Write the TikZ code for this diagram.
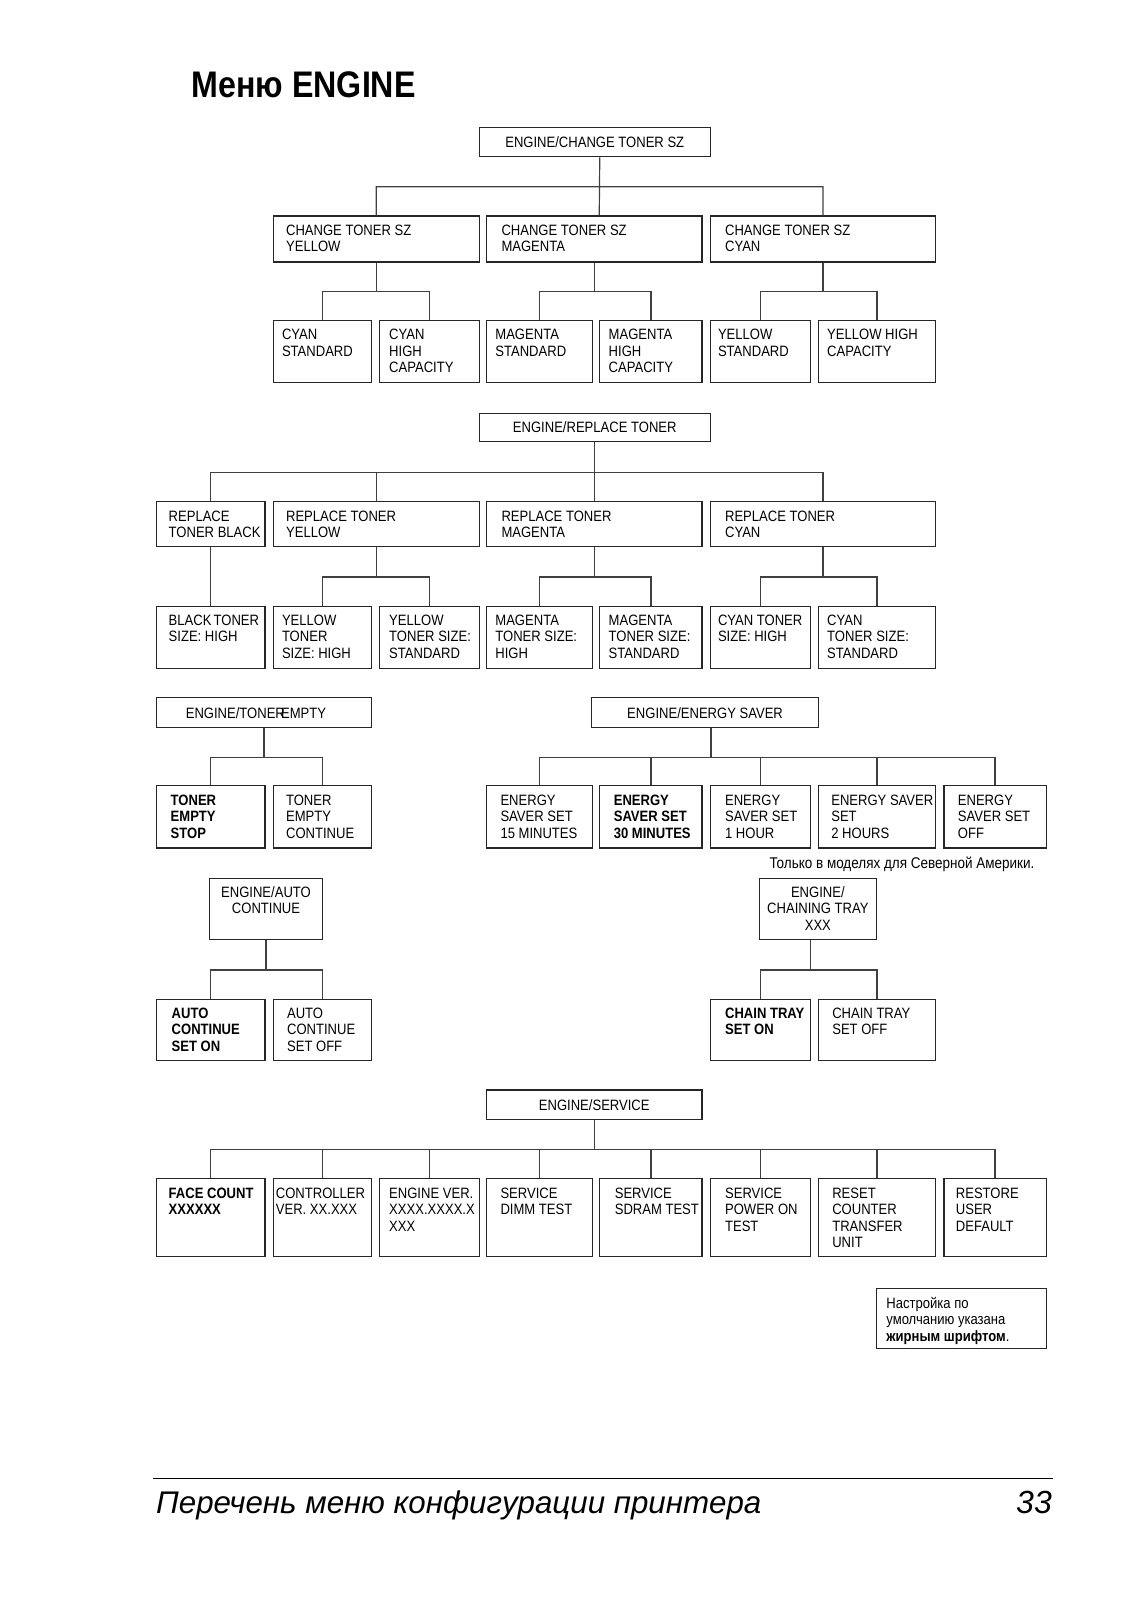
\documentclass[tikz,border=0pt]{standalone}
\usepackage{fontspec}
\setmainfont{Liberation Sans}[FakeStretch=0.87]
\newfontfamily\plainsans{Liberation Sans}
\newcommand{\boxfont}{\fontsize{15}{16.5}\selectfont}

\begin{document}
\begin{tikzpicture}[x=1pt,y=-1pt,
  cell/.style={draw=black!85, line width=1.1pt, anchor=north west, inner sep=0pt, minimum height=62.3pt, font=\boxfont},
  head/.style={cell, minimum height=29.6pt, text height=10.7pt, text depth=0pt},
  lbl/.style={anchor=north west, inner sep=0pt, align=left, xshift=#1, yshift=-9.3pt, font=\boxfont},
  lbl/.default=9.2pt,
  mid/.style={anchor=north, inner sep=0pt, align=center, yshift=-8.3pt, font=\boxfont},
  bold/.style={font=\boxfont\bfseries},
  wire/.style={line width=1.2pt, draw=black!75}]
\useasboundingbox (0,0) rectangle (1130,1600);

\node[anchor=base west, inner sep=0pt, font=\fontsize{37}{40}\selectfont\bfseries] (title) at (191.5,98) {Меню ENGINE};

% ENGINE/CHANGE TONER SZ
\node[head, minimum width=230.8pt] (chg) at (478.8,126.6) {ENGINE/CHANGE TONER SZ};
\node[cell, minimum width=206.2pt, minimum height=46pt, label={[lbl=13.3pt]north west:{CHANGE TONER SZ\\YELLOW}}] (chgY) at (272.6,215.4) {};
\node[cell, minimum width=215.4pt, minimum height=46pt, label={[lbl=15.3pt]north west:{CHANGE TONER SZ\\MAGENTA}}] (chgM) at (486,215.4) {};
\node[cell, minimum width=225.6pt, minimum height=46pt, label={[lbl=15.3pt]north west:{CHANGE TONER SZ\\CYAN}}] (chgC) at (709.6,215.4) {};
\node[cell, minimum width=98pt, label={[lbl]north west:{CYAN\\STANDARD}}] (cyStd) at (272.6,319.6) {};
\node[cell, minimum width=100pt, label={[lbl=10.2pt]north west:{CYAN\\HIGH\\CAPACITY}}] (cyHi) at (378.8,319.6) {};
\node[cell, minimum width=106.2pt, label={[lbl]north west:{MAGENTA\\STANDARD}}] (mgStd) at (486,319.6) {};
\node[cell, minimum width=102.1pt, label={[lbl]north west:{MAGENTA\\HIGH\\CAPACITY}}] (mgHi) at (599.3,319.6) {};
\node[cell, minimum width=100.1pt, label={[lbl=8.2pt]north west:{YELLOW\\STANDARD}}] (ylStd) at (709.6,319.6) {};
\node[cell, minimum width=117.4pt, label={[lbl]north west:{YELLOW HIGH\\CAPACITY}}] (ylHi) at (817.8,319.6) {};

\draw[wire] ([xshift=5pt]chg.south) -- ([xshift=5pt]chgM.north)
  ([xshift=5pt]chg.south) ++(0,29.5) -| (chgY.north)
  ([xshift=5pt]chg.south) ++(0,29.5) -| (chgC.north);
\draw[wire] foreach \c in {cyStd,cyHi} {(chgY.south) -- ++(0,29.1) -| (\c.north)};
\draw[wire] foreach \c in {mgStd,mgHi} {(chgM.south) -- ++(0,29.1) -| (\c.north)};
\draw[wire] foreach \c in {ylStd,ylHi} {(chgC.south) -- ++(0,29.1) -| (\c.north)};

% ENGINE/REPLACE TONER
\node[head, minimum width=230.8pt, minimum height=28.6pt] (rpl) at (478.8,412.5) {ENGINE/REPLACE TONER};
\node[cell, minimum width=108.2pt, minimum height=45pt, label={[lbl=12.3pt]north west:{REPLACE\\TONER BLACK}}] (rplK) at (156.2,501.3) {};
\node[cell, minimum width=206.2pt, minimum height=45pt, label={[lbl=13.3pt]north west:{REPLACE TONER\\YELLOW}}] (rplY) at (272.6,501.3) {};
\node[cell, minimum width=215.4pt, minimum height=45pt, label={[lbl=15.3pt]north west:{REPLACE TONER\\MAGENTA}}] (rplM) at (486,501.3) {};
\node[cell, minimum width=225.6pt, minimum height=45pt, label={[lbl=15.3pt]north west:{REPLACE TONER\\CYAN}}] (rplC) at (709.6,501.3) {};
\node[cell, minimum width=108.2pt, label={[lbl=12.3pt]north west:{BLACK\kern-.1em\ TONER\\SIZE: HIGH}}] (tsKH) at (156.2,605.5) {};
\node[cell, minimum width=98pt, label={[lbl]north west:{YELLOW\\TONER\\SIZE: HIGH}}] (tsYH) at (272.6,605.5) {};
\node[cell, minimum width=100pt, label={[lbl=10.2pt]north west:{YELLOW\\TONER SIZE:\\STANDARD}}] (tsYS) at (378.8,605.5) {};
\node[cell, minimum width=106.2pt, label={[lbl]north west:{MAGENTA\\TONER SIZE:\\HIGH}}] (tsMH) at (486,605.5) {};
\node[cell, minimum width=102.1pt, label={[lbl]north west:{MAGENTA\\TONER SIZE:\\STANDARD}}] (tsMS) at (599.3,605.5) {};
\node[cell, minimum width=100.1pt, label={[lbl=8.2pt]north west:{CYAN TONER\\SIZE: HIGH}}] (tsCH) at (709.6,605.5) {};
\node[cell, minimum width=117.4pt, label={[lbl]north west:{CYAN\\TONER SIZE:\\STANDARD}}] (tsCS) at (817.8,605.5) {};

\draw[wire] foreach \c in {rplK,rplY,rplM,rplC} {(rpl.south) -- ++(0,30.1) -| (\c.north)};
\draw[wire] (rplK.south) -- (tsKH.north);
\draw[wire] foreach \c in {tsYH,tsYS} {(rplY.south) -- ++(0,29.6) -| (\c.north)};
\draw[wire] foreach \c in {tsMH,tsMS} {(rplM.south) -- ++(0,29.6) -| (\c.north)};
\draw[wire] foreach \c in {tsCH,tsCS} {(rplC.south) -- ++(0,29.6) -| (\c.north)};

% ENGINE/TONER EMPTY
\node[head, minimum width=214.4pt, minimum height=29.7pt] (emp) at (156.2,697.3) {\hspace*{-16pt}ENGINE/TONER\kern-.25em EMPTY};
\node[cell, minimum width=108.2pt, label={[lbl=14.3pt,bold]north west:{TONER\\EMPTY\\STOP}}] (empStop) at (156.2,785.1) {};
\node[cell, minimum width=98pt, label={[lbl=13.3pt]north west:{TONER\\EMPTY\\CONTINUE}}] (empCont) at (272.6,785.1) {};
\draw[wire] foreach \c in {empStop,empCont} {(emp.south) -- ++(0,29) -| (\c.north)};

% ENGINE/ENERGY SAVER
\node[head, minimum width=226.6pt, minimum height=29.7pt] (nrg) at (591.2,697.3) {ENGINE/ENERGY SAVER};
\node[cell, minimum width=106.2pt, label={[lbl=14.3pt]north west:{ENERGY\\SAVER SET\\15 MINUTES}}] (nrg15) at (486,785.1) {};
\node[cell, minimum width=102.1pt, label={[lbl=14.3pt,bold]north west:{ENERGY\\SAVER SET\\30 MINUTES}}] (nrg30) at (599.3,785.1) {};
\node[cell, minimum width=100.1pt, label={[lbl=15.3pt]north west:{ENERGY\\SAVER SET\\1 HOUR}}] (nrg1h) at (709.6,785.1) {};
\node[cell, minimum width=117.4pt, label={[lbl=13.3pt]north west:{ENERGY SAVER\\SET\\2 HOURS}}] (nrg2h) at (817.8,785.1) {};
\node[cell, minimum width=102.1pt, label={[lbl=14.3pt]north west:{ENERGY\\SAVER SET\\OFF}}] (nrgOff) at (943.4,785.1) {};
\draw[wire] foreach \c in {nrg15,nrg30,nrg1h,nrg2h,nrgOff} {([xshift=6pt]nrg.south) -- ++(0,29) -| (\c.north)};
\node[anchor=base east, inner sep=0pt, font=\fontsize{15.5}{17}\selectfont] (naOnly) at (1034.5,868.5) {Только в моделях для Северной Америки.};

% ENGINE/AUTO CONTINUE
\node[cell, minimum width=112.3pt, minimum height=61.2pt, label={[mid]north:{ENGINE/AUTO\\CONTINUE}}] (auto) at (209.3,878.1) {};
\node[cell, minimum width=108.2pt, minimum height=61.3pt, label={[lbl=15.3pt,bold]north west:{AUTO\\CONTINUE\\SET ON}}] (autoOn) at (156.2,998.5) {};
\node[cell, minimum width=98pt, minimum height=61.3pt, label={[lbl=14.3pt]north west:{AUTO\\CONTINUE\\SET OFF}}] (autoOff) at (272.6,998.5) {};
\draw[wire] foreach \c in {autoOn,autoOff} {(auto.south) -- ++(0,29.6) -| (\c.north)};

% ENGINE/CHAINING TRAY
\node[cell, minimum width=117.4pt, minimum height=61.2pt, label={[mid]north:{ENGINE/\\CHAINING TRAY\\XXX}}] (chn) at (758.6,878.1) {};
\node[cell, minimum width=100.1pt, minimum height=61.3pt, label={[lbl=15.3pt,bold]north west:{CHAIN TRAY\\SET ON}}] (chnOn) at (709.6,998.5) {};
\node[cell, minimum width=117.4pt, minimum height=61.3pt, label={[lbl=14.3pt]north west:{CHAIN TRAY\\SET OFF}}] (chnOff) at (817.8,998.5) {};
\draw[wire] foreach \c in {chnOn,chnOff} {([xshift=-7pt]chn.south) -- ++(0,29.6) -| (\c.north)};

% ENGINE/SERVICE
\node[head, minimum width=215.4pt] (svc) at (486,1089.4) {ENGINE/SERVICE};
\node[cell, minimum width=108.2pt, minimum height=77.6pt, label={[lbl=12.3pt,bold]north west:{FACE COUNT\\XXXXXX}}] (face) at (156.2,1178.2) {};
\node[cell, minimum width=98pt, minimum height=77.6pt, label={[lbl=3.1pt]north west:{CONTROLLER\\VER. XX.XXX}}] (ctrl) at (272.6,1178.2) {};
\node[cell, minimum width=100pt, minimum height=77.6pt, label={[lbl=10.2pt]north west:{ENGINE VER.\\XXXX.XXXX.X\\XXX}}] (engv) at (378.8,1178.2) {};
\node[cell, minimum width=106.2pt, minimum height=77.6pt, label={[lbl=14.3pt]north west:{SERVICE\\DIMM TEST}}] (dimm) at (486,1178.2) {};
\node[cell, minimum width=102.1pt, minimum height=77.6pt, label={[lbl=15.3pt]north west:{SERVICE\\SDRAM TEST}}] (sdram) at (599.3,1178.2) {};
\node[cell, minimum width=100.1pt, minimum height=77.6pt, label={[lbl=15.3pt]north west:{SERVICE\\POWER ON\\TEST}}] (pwr) at (709.6,1178.2) {};
\node[cell, minimum width=117.4pt, minimum height=77.6pt, label={[lbl=14.3pt]north west:{RESET\\COUNTER\\TRANSFER\\UNIT}}] (rstc) at (817.8,1178.2) {};
\node[cell, minimum width=102.1pt, minimum height=77.6pt, label={[lbl=12.3pt]north west:{RESTORE\\USER\\DEFAULT}}] (rstr) at (943.4,1178.2) {};
\draw[wire] foreach \c in {face,ctrl,engv,dimm,sdram,pwr,rstc,rstr} {(svc.south) -- ++(0,29.6) -| (\c.north)};

\node[cell, minimum width=169.5pt, minimum height=60.2pt, label={[lbl=10.2pt]north west:{Настройка по\\умолчанию указана\\\textbf{жирным шрифтом}.}}] (dflt) at (876,1287.5) {};

% footer
\draw[line width=1pt] (153.3,1478.3) -- (1052.7,1478.3);
\node[anchor=base west, inner sep=0pt, font=\plainsans\fontsize{31.3}{36}\selectfont\itshape] (foot) at (156,1513) {Перечень меню конфигурации принтера};
\node[anchor=base east, inner sep=0pt, font=\plainsans\fontsize{32}{36}\selectfont\itshape] (pageno) at (1052,1513) {33};
\end{tikzpicture}
\end{document}
